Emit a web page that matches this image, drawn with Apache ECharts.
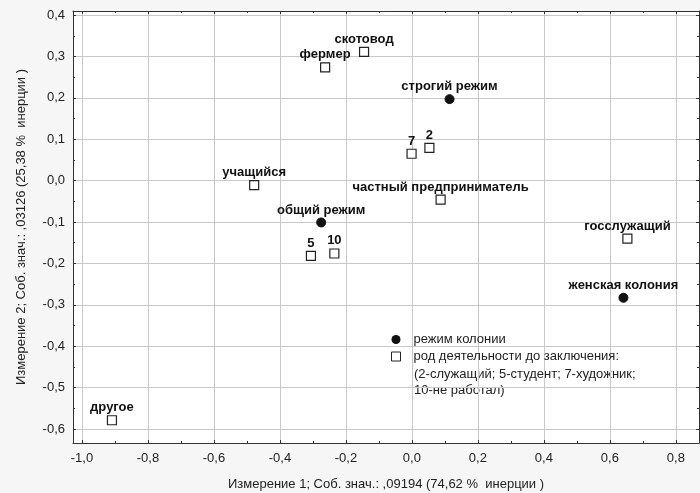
<!DOCTYPE html>
<html>
<head>
<meta charset="utf-8">
<script src="https://cdn.jsdelivr.net/npm/echarts@6/dist/echarts.min.js"></script>
<style>
html,body{margin:0;padding:0;background:#f6f6f6;}
#chart{width:700px;height:493px;}
</style>
</head>
<body>
<div id="chart"></div>
<script>
// Режим колонии (filled markers)
const regimeNames = ['строгий режим', 'общий режим', 'женская колония'];
const regimeX = [0.114, -0.275, 0.641];
const regimeY = [0.197, -0.101, -0.283];

// Род деятельности до заключения (open squares)
const occNames = ['скотовод', 'фермер', '7', '2', 'частный предприниматель', 'госслужащий', 'учащийся', '5', '10', 'другое'];
const occX = [-0.145, -0.263, -0.001, 0.053, 0.087, 0.653, -0.478, -0.306, -0.235, -0.909];
const occY = [0.311, 0.274, 0.065, 0.079, -0.046, -0.140, -0.011, -0.182, -0.176, -0.579];

const xTicks = [-1.0, -0.8, -0.6, -0.4, -0.2, 0.0, 0.2, 0.4, 0.6, 0.8];
const xMinor = [-0.9, -0.7, -0.5, -0.3, -0.1, 0.1, 0.3, 0.5, 0.7];
const yTicks = [-0.6, -0.5, -0.4, -0.3, -0.2, -0.1, 0.0, 0.1, 0.2, 0.3, 0.4];
const yMinor = [-0.55, -0.45, -0.35, -0.25, -0.15, -0.05, 0.05, 0.15, 0.25, 0.35];

const xName = 'Измерение 1; Соб. знач.: ,09194 (74,62 %  инерции )';
const yName = 'Измерение 2; Соб. знач.: ,03126 (25,38 %  инерции )';
const legendNames = ['режим колонии', 'род деятельности до заключения:'];
const legendExtra = '(2-служащий; 5-студент; 7-художник;\n10-не работал)';

const FONT = '"Liberation Sans", Arial, sans-serif';
const fmt = v => (Math.abs(v) < 1e-9 ? 0 : v).toFixed(1).replace('.', ',');

const xMin = -1.027, xMax = 0.87, yMin = -0.634, yMax = 0.41;

function xAxisDef(pos, ticks, len, showLabel, showSplit, showLine, name) {
  return {
    type: 'value', position: pos, min: xMin, max: xMax,
    name: name || '', nameLocation: 'middle', nameGap: 35,
    nameTextStyle: {fontFamily: FONT, fontSize: 13, color: '#222'},
    axisLine: {show: showLine, onZero: false, lineStyle: {color: '#333', width: 1}},
    axisTick: {show: true, inside: true, length: len, customValues: ticks, lineStyle: {color: '#333'}},
    axisLabel: {show: showLabel, customValues: ticks, formatter: fmt, fontFamily: FONT, fontSize: 13, color: '#222', margin: 9},
    splitLine: {show: showSplit, lineStyle: {color: '#c8c8c8', width: 1}}
  };
}
function yAxisDef(pos, ticks, len, showLabel, showSplit, showLine, name) {
  return {
    type: 'value', position: pos, min: yMin, max: yMax,
    name: name || '', nameLocation: 'middle', nameGap: 45,
    nameTextStyle: {fontFamily: FONT, fontSize: 13, color: '#222'},
    axisLine: {show: showLine, onZero: false, lineStyle: {color: '#333', width: 1}},
    axisTick: {show: true, inside: true, length: len, customValues: ticks, lineStyle: {color: '#333'}},
    axisLabel: {show: showLabel, customValues: ticks, formatter: fmt, fontFamily: FONT, fontSize: 13, color: '#222', margin: 8},
    splitLine: {show: showSplit, lineStyle: {color: '#c8c8c8', width: 1}}
  };
}

const labelStyle = {
  show: true, position: 'top', distance: 1, formatter: '{b}',
  fontFamily: FONT, fontSize: 13, fontWeight: 'bold', color: '#111'
};

const chart = echarts.init(document.getElementById('chart'), null, {renderer: 'canvas'});
chart.setOption({
  backgroundColor: '#f6f6f6',
  animation: false,
  grid: {left: 73, right: 1, top: 11, bottom: 50, outerBoundsMode: 'none', containLabel: false,
         show: true, backgroundColor: '#ffffff', borderWidth: 0},
  xAxis: [
    xAxisDef('bottom', xTicks, 3, true, true, true, xName),
    xAxisDef('top', xTicks, 3, false, false, true),
    xAxisDef('bottom', xMinor, 2, false, false, false),
    xAxisDef('top', xMinor, 2, false, false, false)
  ],
  yAxis: [
    yAxisDef('left', yTicks, 3, true, true, true, yName),
    yAxisDef('right', yTicks, 3, false, false, true),
    yAxisDef('left', yMinor, 2, false, false, false),
    yAxisDef('right', yMinor, 2, false, false, false)
  ],
  legend: {
    orient: 'vertical', left: 386, top: 328, itemWidth: 9, itemHeight: 9, itemGap: 4,
    data: [
      {name: legendNames[0], itemStyle: {color: '#111', borderColor: '#111', borderWidth: 0}},
      {name: legendNames[1], itemStyle: {color: '#ffffff', borderColor: '#222', borderWidth: 1}}
    ],
    textStyle: {fontFamily: FONT, fontSize: 13, color: '#222', padding: [0, 0, 0, 8]}
  },
  graphic: [{
    type: 'text', left: 414, top: 366,
    style: {text: legendExtra, fontFamily: FONT, fontSize: 13, fill: '#222', lineHeight: 16}
  }],
  series: [
    {
      name: legendNames[0], type: 'scatter', xAxisIndex: 0, yAxisIndex: 0,
      symbol: 'circle', symbolSize: 9,
      itemStyle: {color: '#111', borderColor: '#111', borderWidth: 1, opacity: 1},
      label: labelStyle,
      data: regimeNames.map((n, i) => ({name: n, value: [regimeX[i], regimeY[i]]}))
    },
    {
      name: legendNames[1], type: 'scatter', xAxisIndex: 0, yAxisIndex: 0,
      symbol: 'rect', symbolSize: 9,
      itemStyle: {color: '#ffffff', borderColor: '#222', borderWidth: 1.2, opacity: 1},
      label: labelStyle,
      data: occNames.map((n, i) => ({name: n, value: [occX[i], occY[i]]}))
    }
  ]
});
</script>
</body>
</html>
